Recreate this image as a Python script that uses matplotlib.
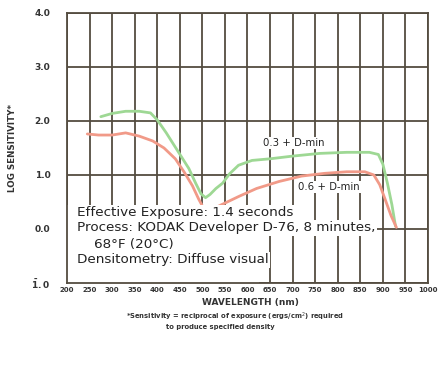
import matplotlib
matplotlib.use("Agg")
import matplotlib.pyplot as plt
from matplotlib.patches import Rectangle

# Spectral sensitivity data
wavelength_ticks = list(range(200, 1001, 50))
ytick_values = [-1.0, 0.0, 1.0, 2.0, 3.0, 4.0]
ytick_labels = [r"$\mathbf{\bar{1}.0}$", "0.0", "1.0", "2.0", "3.0", "4.0"]

d03_nm = [275, 300, 330, 360, 385, 400, 420, 445, 470, 485, 497, 507, 517, 530,
          545, 560, 580, 610, 650, 700, 760, 820, 870, 890, 900, 910, 920, 928]
d03_logs = [2.08, 2.14, 2.18, 2.18, 2.15, 2.02, 1.78, 1.45, 1.12, 0.85, 0.65, 0.58,
            0.64, 0.75, 0.85, 1.02, 1.18, 1.27, 1.30, 1.35, 1.40, 1.42, 1.42, 1.38,
            1.20, 0.85, 0.45, 0.05]

d06_nm = [245, 270, 300, 330, 360, 390, 415, 440, 460, 478, 492, 503, 515, 530,
          550, 580, 620, 670, 720, 770, 820, 860, 880, 893, 905, 918, 930]
d06_logs = [1.76, 1.74, 1.74, 1.78, 1.72, 1.63, 1.50, 1.30, 1.05, 0.80, 0.55, 0.38,
            0.35, 0.40, 0.48, 0.60, 0.75, 0.88, 0.98, 1.03, 1.06, 1.06, 1.00, 0.82,
            0.55, 0.25, 0.03]

notes = ["Effective Exposure: 1.4 seconds",
         "Process: KODAK Developer D-76, 8 minutes,",
         "    68\u00b0F (20\u00b0C)",
         "Densitometry: Diffuse visual"]

grid_c = "#544c40"
green_c = "#9ed894"
red_c = "#f19a88"

plt.rcParams["font.family"] = ["DejaVu Sans"]
plt.rcParams["mathtext.fontset"] = "dejavusans"
fig = plt.figure(figsize=(4.41, 3.68), dpi=100)
ax = fig.add_axes([67 / 441, 1 - 283 / 368, (428 - 67) / 441, (283 - 13) / 368])
ax.set_xlim(200, 1000)
ax.set_ylim(-1, 4)

# grid
for x in wavelength_ticks:
    ax.axvline(x, color=grid_c, lw=1.3, zorder=1)
for y in ytick_values:
    ax.axhline(y, color=grid_c, lw=1.3, zorder=1)
for s in ax.spines.values():
    s.set_color(grid_c)
    s.set_linewidth(1.3)

# white panel under notes
ax.add_patch(Rectangle((200, -1), 425, 1.44, facecolor="white", edgecolor="none", zorder=2))

ax.plot(d03_nm, d03_logs, color=green_c, lw=2.0, zorder=3, solid_capstyle="round")
ax.plot(d06_nm, d06_logs, color=red_c, lw=2.0, zorder=3, solid_capstyle="round")

ys = [0.30, 0.02, -0.28, -0.57]
for txt, y in zip(notes, ys):
    ax.text(222, y, txt, fontsize=9.7, color="#222222", va="center", ha="left", zorder=4,
            bbox=dict(facecolor="white", edgecolor="none", pad=1.2))

ax.text(634, 1.59, "0.3 + D-min", fontsize=7.3, color="#222222", va="center", ha="left",
        zorder=4, bbox=dict(facecolor="white", edgecolor="none", pad=0.8))
ax.text(712, 0.78, "0.6 + D-min", fontsize=7.3, color="#222222", va="center", ha="left",
        zorder=4, bbox=dict(facecolor="white", edgecolor="none", pad=0.8))

ax.set_xticks(wavelength_ticks)
ax.set_xticklabels([str(w) for w in wavelength_ticks], fontsize=5.0, fontweight="bold")
ax.set_yticks(ytick_values)
ax.set_yticklabels(ytick_labels, fontsize=6.5, fontweight="bold")
ax.tick_params(length=0, pad=3, colors="#333333")
ax.tick_params(axis="y", pad=12)

ax.set_ylabel("LOG SENSITIVITY*", fontsize=6.3, fontweight="bold", color="#333333", labelpad=10)
fig.text(250 / 441, 1 - 302 / 368, "WAVELENGTH (nm)", fontsize=6.5, fontweight="bold",
         color="#333333", ha="center", va="center")
fig.text(235 / 441, 1 - 317 / 368,
         "*Sensitivity = reciprocal of exposure (ergs/cm$^2$) required",
         fontsize=4.9, fontweight="bold", color="#333333", ha="center", va="center")
fig.text(220 / 441, 1 - 327 / 368, "to produce specified density",
         fontsize=4.9, fontweight="bold", color="#333333", ha="center", va="center")

fig.savefig("out.png", dpi=100, facecolor="white")
